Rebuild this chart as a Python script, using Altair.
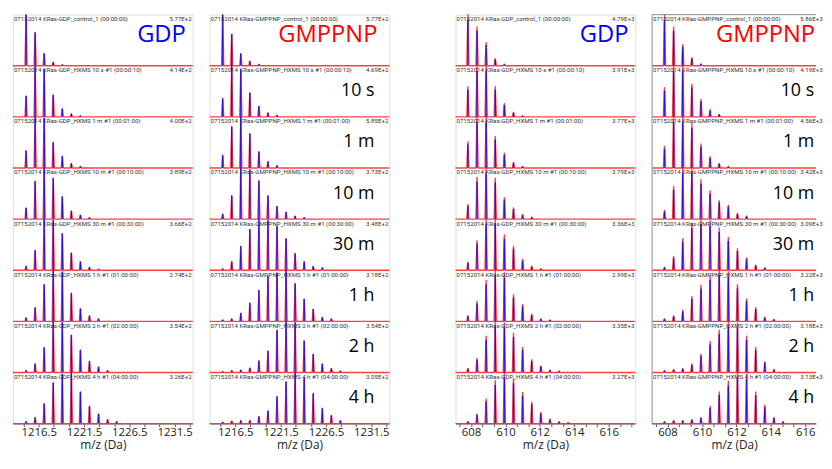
import altair as alt
import pandas as pd

# ---------------- data ----------------
# peak centres (m/z) of the isotope envelopes
MZ_1P = [1215.1, 1216.1, 1217.1, 1218.1, 1219.1, 1220.1, 1221.1,
         1222.1, 1223.1, 1224.1, 1225.1, 1226.1, 1227.1, 1228.1]
MZ_2P = [607.82, 608.35, 608.88, 609.41, 609.94, 610.47, 611.00,
         611.53, 612.06, 612.59, 613.12, 613.65, 614.18, 614.71]

TIME_LABELS = ["", "10 s", "1 m", "10 m", "30 m", "1 h", "2 h", "4 h"]
CLOCKS = ["00:00:00", "00:00:10", "00:01:00", "00:10:00",
          "00:30:00", "01:00:00", "02:00:00", "04:00:00"]

# relative intensities per exposure (rows top -> bottom)
GDP_1P = [
    [1.00, 0.65, 0.24, 0.07, 0.02],
    [0.41, 1.00, 0.93, 0.43, 0.16, 0.06, 0.02],
    [0.34, 1.00, 0.98, 0.50, 0.23, 0.09, 0.03],
    [0.22, 0.74, 1.00, 0.80, 0.44, 0.16, 0.08, 0.03],
    [0.08, 0.39, 1.00, 0.98, 0.72, 0.34, 0.17, 0.06, 0.02],
    [0.07, 0.27, 0.72, 1.00, 0.97, 0.55, 0.25, 0.11, 0.05],
    [0.04, 0.17, 0.49, 1.00, 0.98, 0.73, 0.44, 0.22, 0.11, 0.04],
    [0.04, 0.12, 0.39, 0.80, 0.97, 1.00, 0.62, 0.34, 0.19, 0.08, 0.04],
]
GMPPNP_1P = [
    [1.00, 0.62, 0.24, 0.09, 0.03],
    [0.36, 1.00, 0.92, 0.47, 0.21, 0.08, 0.03],
    [0.25, 0.81, 1.00, 0.67, 0.32, 0.13, 0.05],
    [0.10, 0.46, 1.00, 0.97, 0.75, 0.46, 0.25, 0.14, 0.06, 0.03],
    [0.03, 0.17, 0.47, 0.80, 1.00, 0.98, 0.86, 0.62, 0.33, 0.17, 0.08, 0.05],
    [0.03, 0.05, 0.16, 0.36, 0.61, 0.89, 0.95, 1.00, 0.74, 0.44, 0.24, 0.08, 0.05],
    [0.02, 0.04, 0.05, 0.09, 0.23, 0.42, 0.83, 1.00, 0.98, 0.62, 0.36, 0.17, 0.08, 0.03],
    [0.03, 0.05, 0.06, 0.06, 0.14, 0.25, 0.53, 0.82, 1.00, 0.90, 0.59, 0.30, 0.16, 0.06],
]
GDP_2P = [
    [1.00, 0.76, 0.45, 0.14, 0.03],
    [0.59, 1.00, 1.00, 0.59, 0.26, 0.09, 0.02],
    [0.51, 1.00, 1.00, 0.62, 0.29, 0.11, 0.03],
    [0.29, 0.82, 1.00, 0.80, 0.42, 0.22, 0.09, 0.04],
    [0.16, 0.58, 1.00, 1.00, 0.69, 0.47, 0.21, 0.08, 0.03],
    [0.11, 0.39, 0.80, 1.00, 0.95, 0.52, 0.33, 0.14, 0.05, 0.03],
    [0.08, 0.28, 0.71, 1.00, 0.97, 0.77, 0.49, 0.25, 0.13, 0.05, 0.03],
    [0.04, 0.19, 0.48, 0.84, 1.00, 0.88, 0.61, 0.42, 0.22, 0.09, 0.04, 0.02],
]
GMPPNP_2P = [
    [1.00, 0.76, 0.41, 0.16, 0.04],
    [0.57, 1.00, 1.00, 0.64, 0.34, 0.14, 0.05],
    [0.42, 1.00, 1.00, 0.87, 0.47, 0.22, 0.09, 0.03],
    [0.17, 0.64, 1.00, 1.00, 0.77, 0.55, 0.36, 0.27, 0.11, 0.06],
    [0.06, 0.27, 0.62, 0.92, 1.00, 0.97, 0.83, 0.64, 0.42, 0.24, 0.10, 0.05],
    [0.05, 0.11, 0.22, 0.49, 0.71, 0.90, 1.00, 0.97, 0.72, 0.44, 0.27, 0.08, 0.04],
    [0.04, 0.06, 0.08, 0.17, 0.36, 0.61, 0.83, 1.00, 0.97, 0.71, 0.49, 0.21, 0.06],
    [0.04, 0.06, 0.06, 0.08, 0.12, 0.34, 0.62, 0.83, 1.00, 0.97, 0.62, 0.36, 0.12, 0.04],
]

MAX_GDP_1P = ["5.77E+2", "4.14E+2", "4.00E+2", "3.89E+2", "3.66E+2", "2.74E+2", "3.54E+2", "3.26E+2"]
MAX_GMPPNP_1P = ["5.77E+2", "4.69E+2", "5.85E+2", "3.73E+2", "3.48E+2", "3.18E+2", "3.54E+2", "3.05E+2"]
MAX_GDP_2P = ["4.79E+3", "3.91E+3", "3.77E+3", "3.79E+3", "3.36E+3", "2.99E+3", "3.35E+3", "3.27E+3"]
MAX_GMPPNP_2P = ["5.86E+3", "4.19E+3", "4.56E+3", "3.42E+3", "3.09E+3", "3.22E+3", "3.18E+3", "3.13E+3"]

# ---------------- styling / layout ----------------
W, H = 182, 414          # full panel size
W_LAST = 166             # last panel is cut by the right edge of the figure
NROWS = 8
FRAME = "#8c8c8c"
BIG_FONT = "Open Sans"
SMALL_FONT = "Roboto"

DOM_1P = [1213.65, 1233.5]
DOM_2P = [607.1, 617.55]
DOM_2P_CUT = [607.1, 616.63]
TICKS_1P = [1214.8333, 1216.5, 1218.1667, 1219.8333, 1221.5, 1223.1667, 1224.8333,
            1226.5, 1228.1667, 1229.8333, 1231.5, 1233.1667]
TICKS_2P = [607.3333, 608, 608.6667, 609.3333, 610, 610.6667, 611.3333, 612, 612.6667,
            613.3333, 614, 614.6667, 615.3333, 616, 616.6667, 617.3333]
LBL_1P = ("abs((datum.value - 1216.5) / 5 - round((datum.value - 1216.5) / 5)) < 0.01"
          " ? format(datum.value, '.1f') : ''")
LBL_2P = "abs(datum.value / 2 - round(datum.value / 2)) < 0.01 ? format(datum.value, 'd') : ''"


def panel(mz, heights, maxes, state, title_color, title_right, time_right, domain, ticks,
          lbl_expr, hw, stick_scale, show_times, width=W, open_right=False):
    prof, sticks, heads = [], [], []
    for r, hs in enumerate(heights):
        o = 0
        prof.append(dict(row=r, x=domain[0], v=0.0, o=o))
        o += 1
        for m, h in zip(mz, hs):
            sticks.append(dict(row=r, mz=m, h=h))
            for dx, v in ((-hw, 0.0), (0.0, h), (hw, 0.0)):
                prof.append(dict(row=r, x=m + dx, v=v, o=o))
                o += 1
        prof.append(dict(row=r, x=domain[1], v=0.0, o=o))
        if r == 0:
            left = f"07152014 KRas-{state}_control_1 ({CLOCKS[r]})"
        else:
            left = f"07152014 KRas-{state}_HXMS {TIME_LABELS[r]} #1 ({CLOCKS[r]})"
        heads.append(dict(row=r, left=left, right=maxes[r], t=TIME_LABELS[r]))

    prof = pd.DataFrame(prof)
    sticks = pd.DataFrame(sticks)
    heads = pd.DataFrame(heads)
    ticks = [t for t in ticks if domain[0] <= t <= domain[1]]

    xs = alt.Scale(domain=domain, nice=False, zero=False)
    ys = alt.Scale(domain=[0, NROWS], nice=False, zero=False)
    xaxis = alt.Axis(values=ticks, labelExpr=lbl_expr, title="m/z (Da)", grid=False,
                     tickSize=3, tickColor="#555", domainColor=FRAME, labelOverlap=False,
                     labelFont=BIG_FONT, labelFontSize=11.5, labelColor="#222", labelPadding=0,
                     titleFont=BIG_FONT, titleFontSize=12, titleFontWeight="normal",
                     titleColor="#222", titlePadding=2)

    base = alt.Chart(prof).transform_calculate(
        y0=f"{NROWS - 1} - datum.row",
        y1=f"{NROWS - 1} - datum.row + datum.v",
    )
    area = base.mark_area(color="#ff8a8a", opacity=0.45, interpolate="linear").encode(
        x=alt.X("x:Q", scale=xs, axis=xaxis),
        y=alt.Y("y1:Q", scale=ys, axis=None),
        y2="y0:Q",
        detail="row:N",
        order="o:Q",
    )
    line = base.mark_line(color="#ff2020", strokeWidth=1.4, opacity=0.85,
                          strokeJoin="round").encode(
        x=alt.X("x:Q", scale=xs, axis=xaxis),
        y=alt.Y("y1:Q", scale=ys, axis=None),
        detail="row:N",
        order="o:Q",
    )
    stick = alt.Chart(sticks).transform_calculate(
        y0=f"{NROWS - 1} - datum.row",
        y1=f"{NROWS - 1} - datum.row + datum.h * {stick_scale}",
    ).mark_rule(color="#0000ff", strokeWidth=1.5, opacity=0.8).encode(
        x=alt.X("mz:Q", scale=xs, axis=xaxis),
        y=alt.Y("y0:Q", scale=ys, axis=None),
        y2="y1:Q",
    )
    hbase = alt.Chart(heads).transform_calculate(
        top=f"{NROWS} - datum.row",
        mid=f"{NROWS} - datum.row - 0.5",
    )
    hl = hbase.mark_text(align="left", baseline="middle", dy=4.5, font=SMALL_FONT,
                         fontSize=6.2, color="#333").encode(
        x=alt.value(1), y=alt.Y("top:Q", scale=ys, axis=None), text="left:N")
    if open_right:
        # the intensity label runs past the figure's right edge: show only its start
        hr = hbase.mark_text(align="left", baseline="middle", dy=4.5, font=SMALL_FONT,
                             fontSize=6.2, color="#333", limit=25, ellipsis="").encode(
            x=alt.value(width - 16), y=alt.Y("top:Q", scale=ys, axis=None), text="right:N")
    else:
        hr = hbase.mark_text(align="right", baseline="middle", dy=4.5, font=SMALL_FONT,
                             fontSize=6.2, color="#333").encode(
            x=alt.value(W - 1), y=alt.Y("top:Q", scale=ys, axis=None), text="right:N")

    layers = [area, line, stick, hl, hr]

    title = alt.Chart(pd.DataFrame({"t": [state]})).mark_text(
        align="right", baseline="middle", font=BIG_FONT, fontSize=24, color=title_color
    ).encode(x=alt.value(title_right), y=alt.value(21), text="t:N")
    layers.append(title)

    if show_times:
        tl = hbase.transform_filter("datum.row > 0").mark_text(
            align="right", baseline="middle", font=BIG_FONT, fontSize=18, color="#000"
        ).encode(x=alt.value(time_right), y=alt.Y("mid:Q", scale=ys, axis=None), text="t:N")
        layers.append(tl)

    props = dict(width=width, height=H)
    if open_right:
        # frame without its right side (that side lies outside the figure)
        edge = alt.Chart(pd.DataFrame({"a": [0]}))
        layers.append(edge.mark_rule(color=FRAME, strokeWidth=1).encode(
            x=alt.value(0), y=alt.value(0), y2=alt.value(H)))
        layers.append(edge.mark_rule(color=FRAME, strokeWidth=1).encode(
            x=alt.value(0), x2=alt.value(width), y=alt.value(0)))
        props["view"] = alt.ViewBackground(stroke="transparent")

    return alt.layer(*layers).properties(**props)


p1 = panel(MZ_1P, GDP_1P, MAX_GDP_1P, "GDP", "#0000ff", 175, 167, DOM_1P, TICKS_1P, LBL_1P,
           0.12, 1.0, False)
p2 = panel(MZ_1P, GMPPNP_1P, MAX_GMPPNP_1P, "GMPPNP", "#ff0000", 170, 167, DOM_1P, TICKS_1P,
           LBL_1P, 0.12, 1.0, True)
p3 = panel(MZ_2P, GDP_2P, MAX_GDP_2P, "GDP", "#0000ff", 175, 167, DOM_2P, TICKS_2P, LBL_2P,
           0.065, 0.9, False)
p4 = panel(MZ_2P, GMPPNP_2P, MAX_GMPPNP_2P, "GMPPNP", "#ff0000", 165, 164, DOM_2P_CUT, TICKS_2P,
           LBL_2P, 0.065, 0.9, True, width=W_LAST, open_right=True)

# empty gap between the two halves of the figure
spacer = alt.Chart(pd.DataFrame({"a": [0]})).mark_text().encode(
    text=alt.value("")
).properties(width=33, height=H, view=alt.ViewBackground(stroke="transparent"))

chart = alt.hconcat(p1, p2, spacer, p3, p4, spacing=17, bounds="flush").resolve_scale(
    x="independent", y="independent"
).properties(
    padding={"left": 3, "top": 2, "right": 0, "bottom": 0}
).configure_view(stroke=FRAME, strokeWidth=1).configure(background="white")

chart.save("out.html", embed_options={"renderer": "svg", "actions": False})
